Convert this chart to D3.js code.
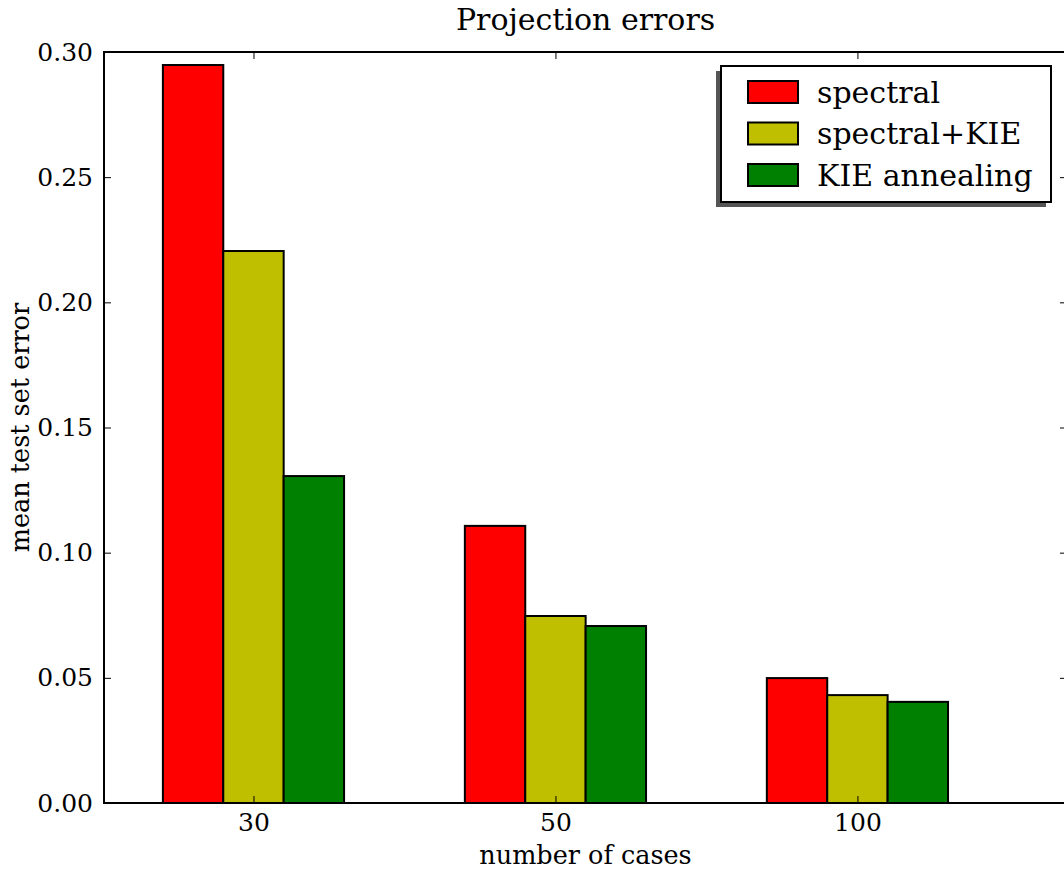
<!DOCTYPE html>
<html><head><meta charset="utf-8">
<script src="https://cdn.jsdelivr.net/npm/d3@7"></script>
<style>body{margin:0;background:#fff}svg{display:block}text{font-family:"DejaVu Serif",serif;fill:#000}</style>
</head><body>
<svg id="c" width="1064" height="869"></svg>
<script>
const categories = ["30", "50", "100"];
const seriesNames = ["spectral", "spectral+KIE", "KIE annealing"];
const seriesColors = ["#ff0000", "#bfbf00", "#008000"];
const spectral = [0.2948, 0.1107, 0.0499];
const spectralKIE = [0.2205, 0.0747, 0.0431];
const kieAnnealing = [0.1306, 0.0707, 0.0404];
const yTicks = [0.00, 0.05, 0.10, 0.15, 0.20, 0.25, 0.30];
const series = [spectral, spectralKIE, kieAnnealing];

const svg = d3.select("#c");
const L = 104, R = 1067, T = 52, B = 803;
const barW = 0.2;
const x = d3.scaleLinear().domain([-0.195, 2.994]).range([L, R]);
const y = d3.scaleLinear().domain([0, 0.30]).range([B, T]);

// bars
series.forEach((vals, s) => {
  svg.append("g").selectAll("rect").data(vals).join("rect")
    .attr("x", (d, i) => x(i + s * barW))
    .attr("width", x(barW) - x(0))
    .attr("y", d => y(d))
    .attr("height", d => y(0) - y(d))
    .attr("fill", seriesColors[s])
    .attr("stroke", "#000").attr("stroke-width", 2);
});

// axes with inward ticks
const tickLen = 7;
const xt = categories.map((c, i) => i + 1.5 * barW);
const axB = d3.axisBottom(x).tickValues(xt).tickFormat((d, i) => categories[i]).tickSize(-tickLen).tickPadding(10);
const axT = d3.axisTop(x).tickValues(xt).tickFormat("").tickSize(-tickLen);
const axL = d3.axisLeft(y).tickValues(yTicks).tickFormat(d3.format(".2f")).tickSize(-tickLen).tickPadding(11);
const axR = d3.axisRight(y).tickValues(yTicks).tickFormat("").tickSize(-tickLen);
function style(g){ g.select(".domain").remove(); g.selectAll("line").attr("stroke","#000").attr("stroke-width",1);
  g.selectAll("text").style("font-family","DejaVu Serif").style("font-size","25px").attr("fill","#000"); }
svg.append("g").attr("transform", `translate(0,${B})`).call(axB).call(style);
svg.append("g").attr("transform", `translate(0,${T})`).call(axT).call(style);
svg.append("g").attr("transform", `translate(${L},0)`).call(axL).call(style);
svg.append("g").attr("transform", `translate(${R},0)`).call(axR).call(style);

svg.append("rect").attr("x", L).attr("y", T).attr("width", R - L).attr("height", B - T)
  .attr("fill", "none").attr("stroke", "#000").attr("stroke-width", 2);

// titles
svg.append("text").attr("x", (L + R) / 2).attr("y", 30).attr("text-anchor", "middle").style("font-size", "30px").text("Projection errors");
svg.append("text").attr("x", (L + R) / 2).attr("y", 864).attr("text-anchor", "middle").style("font-size", "25.5px").text("number of cases");
svg.append("text").attr("transform", `translate(29,${(T + B) / 2}) rotate(-90)`).attr("text-anchor", "middle").style("font-size", "25.5px").text("mean test set error");

// legend
const lg = svg.append("g");
lg.append("rect").attr("x", 716).attr("y", 71).attr("width", 330).attr("height", 136).attr("fill", "#555");
lg.append("rect").attr("x", 721).attr("y", 66).attr("width", 330).attr("height", 136).attr("fill", "#fff").attr("stroke", "#000").attr("stroke-width", 2);
seriesNames.forEach((n, i) => {
  const cy = 92 + i * 41.5;
  lg.append("rect").attr("x", 748).attr("y", cy - 11).attr("width", 50).attr("height", 22)
    .attr("fill", seriesColors[i]).attr("stroke", "#000").attr("stroke-width", 2);
  lg.append("text").attr("x", 817).attr("y", cy).attr("dy", "0.35em").style("font-size", "30px").text(n);
});
</script>
</body></html>
